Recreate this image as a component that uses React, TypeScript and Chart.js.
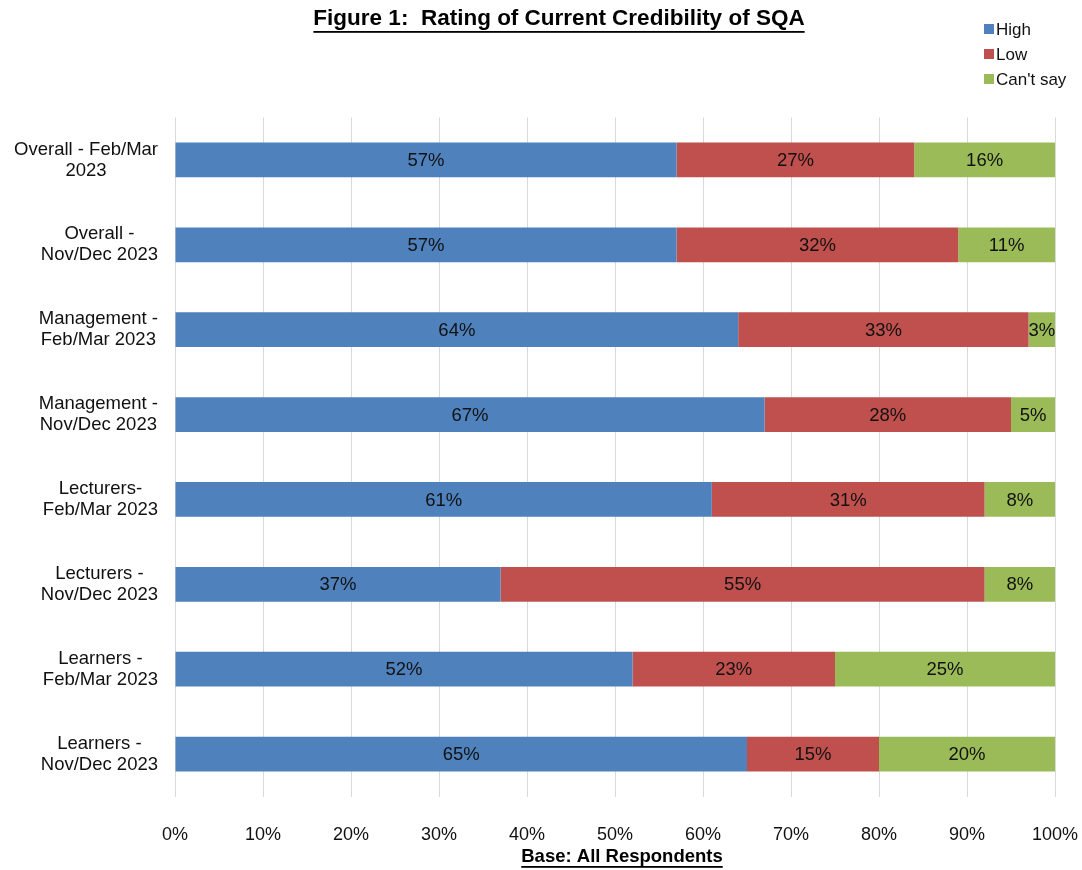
import React, { useEffect, useRef } from "react";
import { Chart, registerables } from "chart.js";

Chart.register(...registerables);

const categories: string[][] = [
  ["Overall - Feb/Mar", "2023"],
  ["Overall -", "Nov/Dec 2023"],
  ["Management -", "Feb/Mar 2023"],
  ["Management -", "Nov/Dec 2023"],
  ["Lecturers-", "Feb/Mar 2023"],
  ["Lecturers -", "Nov/Dec 2023"],
  ["Learners -", "Feb/Mar 2023"],
  ["Learners -", "Nov/Dec 2023"],
];
const highValues = [57, 57, 64, 67, 61, 37, 52, 65];
const lowValues = [27, 32, 33, 28, 31, 55, 23, 15];
const cantSayValues = [16, 11, 3, 5, 8, 8, 25, 20];
const seriesNames = ["High", "Low", "Can't say"];
const seriesColors = ["#4F81BD", "#C0504D", "#9BBB59"];
const titleText = "Figure 1:  Rating of Current Credibility of SQA";
const footerText = "Base: All Respondents";

const FONT = "'Liberation Sans', Arial, sans-serif";

function underlinedText(ctx: CanvasRenderingContext2D, text: string, cx: number, y: number, font: string, uy: number) {
  ctx.save();
  ctx.font = font;
  ctx.fillStyle = "#000";
  ctx.textAlign = "center";
  ctx.textBaseline = "middle";
  ctx.fillText(text, cx, y);
  const w = ctx.measureText(text).width;
  ctx.fillRect(cx - w / 2, uy, w, 1.8);
  ctx.restore();
}

const decorPlugin = {
  id: "decor",
  afterDraw(chart: any) {
    const ctx: CanvasRenderingContext2D = chart.ctx;
    const area = chart.chartArea;
    // title
    underlinedText(ctx, titleText, 559, 19, `bold 22.5px ${FONT}`, 31);
    // footer
    underlinedText(ctx, footerText, 622, 857, `bold 18.5px ${FONT}`, 866);
    // legend
    ctx.save();
    ctx.font = `17px ${FONT}`;
    ctx.textBaseline = "middle";
    ctx.textAlign = "left";
    seriesNames.forEach((name, i) => {
      const y = 29 + i * 25;
      ctx.fillStyle = seriesColors[i];
      ctx.fillRect(984, y - 5, 10, 10);
      ctx.fillStyle = "#111";
      ctx.fillText(name, 996, y + 1);
    });
    ctx.restore();
    // y category labels
    const yScale = chart.scales.y;
    ctx.save();
    ctx.font = `18.5px ${FONT}`;
    ctx.fillStyle = "#111";
    ctx.textBaseline = "middle";
    ctx.textAlign = "center";
    categories.forEach((lines, i) => {
      const cy = yScale.getPixelForValue(i);
      const maxW = Math.max(...lines.map((l) => ctx.measureText(l).width));
      const cx = area.left - 17 - maxW / 2;
      const lh = 21;
      lines.forEach((l, j) => {
        ctx.fillText(l, cx, cy + (j - (lines.length - 1) / 2) * lh);
      });
    });
    ctx.restore();
    // data labels
    ctx.save();
    ctx.font = `18.5px ${FONT}`;
    ctx.fillStyle = "#111";
    ctx.textAlign = "center";
    ctx.textBaseline = "middle";
    chart.data.datasets.forEach((ds: any, di: number) => {
      const meta = chart.getDatasetMeta(di);
      meta.data.forEach((bar: any, i: number) => {
        const v = ds.data[i];
        const p = bar.getProps(["x", "y", "base"], true);
        const cx = (p.x + p.base) / 2;
        ctx.fillText(`${v}%`, cx, p.y + 1);
      });
    });
    ctx.restore();
  },
};

export default function App() {
  const ref = useRef<HTMLCanvasElement>(null);
  useEffect(() => {
    if (!ref.current) return;
    const chart = new Chart(ref.current, {
      type: "bar",
      data: {
        labels: categories.map((c) => c.join(" ")),
        datasets: [
          { label: seriesNames[0], data: highValues, backgroundColor: seriesColors[0] },
          { label: seriesNames[1], data: lowValues, backgroundColor: seriesColors[1] },
          { label: seriesNames[2], data: cantSayValues, backgroundColor: seriesColors[2] },
        ],
      },
      options: {
        indexAxis: "y",
        animation: false,
        responsive: false,
        maintainAspectRatio: false,
        layout: { padding: { top: 117.5, left: 175, right: 27, bottom: 0 } },
        datasets: { bar: { categoryPercentage: 1, barPercentage: 0.41 } },
        plugins: { legend: { display: false }, tooltip: { enabled: false }, title: { display: false } },
        scales: {
          x: {
            stacked: true,
            min: 0,
            max: 100,
            ticks: {
              stepSize: 10,
              callback: (v: any) => `${v}%`,
              font: { family: FONT, size: 18 },
              color: "#111",
              padding: 0,
            },
            grid: { color: "#D9D9D9", drawTicks: true, tickLength: 28, tickColor: "rgba(0,0,0,0)" },
            border: { display: false },
            afterFit: (s: any) => {
              s.height = 73.5;
            },
          },
          y: {
            stacked: true,
            display: false,
          },
        },
      },
      plugins: [decorPlugin],
    });
    return () => chart.destroy();
  }, []);
  return (
    <div style={{ position: "fixed", left: 0, top: 0, width: 1082, height: 870, background: "#fff" }}>
      <canvas ref={ref} width={1082} height={870} />
    </div>
  );
}
